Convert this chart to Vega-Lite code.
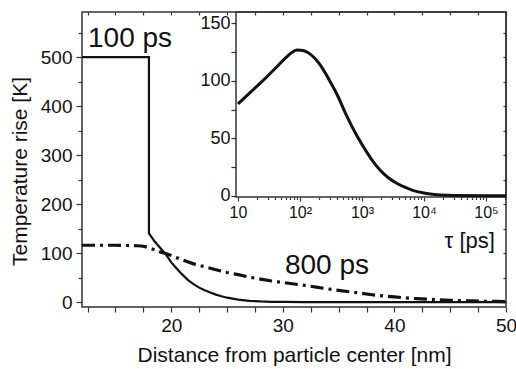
{
  "$schema": "https://vega.github.io/schema/vega-lite/v6.json",
  "width": 424,
  "height": 295,
  "autosize": {"type": "none"},
  "padding": {"left": 82, "top": 12, "right": 10, "bottom": 62},
  "config": {
    "font": "Liberation Sans",
    "view": {"stroke": "#333", "strokeWidth": 1.5},
    "axis": {"grid": false, "domain": false, "tickColor": "#333", "tickWidth": 1.2, "labelColor": "#111", "titleColor": "#111", "titleFontWeight": "normal", "labelFlush": false, "labelOverlap": false}
  },
  "datasets": {
    "p100": [
      {"i": 0, "r": 12, "T": 500}, {"i": 1, "r": 18, "T": 500}, {"i": 2, "r": 18, "T": 140},
      {"i": 3, "r": 18.5, "T": 124}, {"i": 4, "r": 19, "T": 111}, {"i": 5, "r": 19.5, "T": 98},
      {"i": 6, "r": 20, "T": 81}, {"i": 7, "r": 20.5, "T": 68}, {"i": 8, "r": 21, "T": 56},
      {"i": 9, "r": 21.5, "T": 45}, {"i": 10, "r": 22, "T": 36.6}, {"i": 11, "r": 22.5, "T": 29.5},
      {"i": 12, "r": 23, "T": 24}, {"i": 13, "r": 23.5, "T": 19.5}, {"i": 14, "r": 24, "T": 15.3},
      {"i": 15, "r": 24.5, "T": 12}, {"i": 16, "r": 25, "T": 9}, {"i": 17, "r": 26, "T": 5},
      {"i": 18, "r": 27, "T": 2.6}, {"i": 19, "r": 28, "T": 1.3}, {"i": 20, "r": 29, "T": 0.6},
      {"i": 21, "r": 30, "T": 0.3}, {"i": 22, "r": 32, "T": 0.1}, {"i": 23, "r": 35, "T": 0},
      {"i": 24, "r": 50, "T": 0}
    ],
    "p800": [
      {"r": 12, "T": 116}, {"r": 13, "T": 116}, {"r": 14, "T": 116}, {"r": 15, "T": 116},
      {"r": 16, "T": 115.5}, {"r": 17, "T": 115}, {"r": 17.5, "T": 114}, {"r": 18, "T": 111},
      {"r": 18.5, "T": 107}, {"r": 19, "T": 102.5}, {"r": 19.5, "T": 99}, {"r": 20, "T": 95},
      {"r": 21, "T": 86}, {"r": 22, "T": 78}, {"r": 23, "T": 72}, {"r": 24, "T": 66},
      {"r": 25, "T": 60.5}, {"r": 26, "T": 56}, {"r": 27, "T": 51}, {"r": 28, "T": 47},
      {"r": 29, "T": 43}, {"r": 30, "T": 40}, {"r": 31, "T": 37}, {"r": 32, "T": 34},
      {"r": 33, "T": 30.5}, {"r": 34, "T": 27}, {"r": 35, "T": 24}, {"r": 36, "T": 21},
      {"r": 37, "T": 18}, {"r": 38, "T": 15}, {"r": 39, "T": 12.5}, {"r": 40, "T": 10.5},
      {"r": 41, "T": 8.5}, {"r": 42, "T": 7}, {"r": 43, "T": 5.8}, {"r": 44, "T": 4.7},
      {"r": 45, "T": 3.8}, {"r": 46, "T": 3}, {"r": 47, "T": 2.4}, {"r": 48, "T": 1.8},
      {"r": 49, "T": 1.4}, {"r": 50, "T": 1}
    ],
    "bigLabels": [
      {"r": 12.54, "T": 520, "text": "100 ps"},
      {"r": 30.19, "T": 57, "text": "800 ps"}
    ],
    "tauLabel": [{"r": 49.0, "T": 110, "text": "τ [ps]"}],
    "inset": [
      {"tau": 10, "T": 80}, {"tau": 15.8, "T": 90}, {"tau": 25, "T": 100}, {"tau": 40, "T": 111},
      {"tau": 56, "T": 119}, {"tau": 71, "T": 124}, {"tau": 89, "T": 127}, {"tau": 112, "T": 126.5},
      {"tau": 141, "T": 124}, {"tau": 178, "T": 119}, {"tau": 224, "T": 112}, {"tau": 302, "T": 100},
      {"tau": 398, "T": 88}, {"tau": 562, "T": 70}, {"tau": 794, "T": 54}, {"tau": 1047, "T": 43},
      {"tau": 1413, "T": 32}, {"tau": 1950, "T": 22.5}, {"tau": 2630, "T": 16}, {"tau": 3630, "T": 11},
      {"tau": 5010, "T": 7.3}, {"tau": 6760, "T": 4.6}, {"tau": 10000, "T": 2.4}, {"tau": 12600, "T": 1.6},
      {"tau": 18200, "T": 0.8}, {"tau": 31600, "T": 0.3}, {"tau": 100000, "T": 0.05}, {"tau": 210000, "T": 0}
    ],
    "insetFrame": [{"x1": 9.3, "x2": 210000, "y1": -1, "y2": 160}]
  },
  "layer": [
    {
      "layer": [
        {
          "data": {"name": "p100"},
          "mark": {"type": "line", "color": "#111", "strokeWidth": 2.2},
          "encoding": {
            "x": {"field": "r", "type": "quantitative", "scale": {"domain": [12, 50], "nice": false, "zero": false},
              "axis": {"orient": "bottom", "values": [12.5, 15, 17.5, 20, 22.5, 25, 27.5, 30, 32.5, 35, 37.5, 40, 42.5, 45, 47.5, 50],
                "labelExpr": "datum.value % 10 == 0 ? datum.label : ''", "tickSize": 5, "labelFontSize": 19, "labelPadding": 4,
                "title": "Distance from particle center [nm]", "titleFontSize": 21, "titlePadding": 9}},
            "y": {"field": "T", "type": "quantitative", "scale": {"domain": [-10, 592], "nice": false, "zero": false},
              "axis": {"orient": "left", "values": [0, 50, 100, 150, 200, 250, 300, 350, 400, 450, 500, 550],
                "labelExpr": "datum.value % 100 == 0 ? datum.label : ''",
                "tickSize": {"condition": {"test": "datum.value % 100 == 0", "value": 6}, "value": 4},
                "labelFontSize": 19, "labelPadding": 4,
                "title": "Temperature rise [K]", "titleFontSize": 21, "titlePadding": 10, "titleY": 159}},
            "order": {"field": "i", "type": "quantitative"}
          }
        },
        {
          "data": {"name": "p800"},
          "mark": {"type": "line", "color": "#111", "strokeWidth": 3.2, "strokeDash": [13, 5, 3, 5]},
          "encoding": {
            "x": {"field": "r", "type": "quantitative", "scale": {"domain": [12, 50], "nice": false, "zero": false},
              "axis": {"orient": "top", "values": [12.5, 15, 17.5, 20, 22.5, 25, 27.5, 30, 32.5, 35, 37.5, 40, 42.5, 45, 47.5, 50],
                "labels": false, "tickSize": -3, "title": null}},
            "y": {"field": "T", "type": "quantitative", "scale": {"domain": [-10, 592], "nice": false, "zero": false},
              "axis": {"orient": "right", "values": [0, 50, 100, 150, 200, 250, 300, 350, 400, 450, 500, 550],
                "labels": false, "tickSize": -3, "title": null}}
          }
        },
        {
          "data": {"name": "bigLabels"},
          "mark": {"type": "text", "fontSize": 28, "align": "left", "baseline": "alphabetic", "color": "#111"},
          "encoding": {
            "x": {"field": "r", "type": "quantitative", "axis": null},
            "y": {"field": "T", "type": "quantitative", "axis": null},
            "text": {"field": "text"}
          }
        },
        {
          "data": {"name": "tauLabel"},
          "mark": {"type": "text", "fontSize": 22, "align": "right", "baseline": "alphabetic", "color": "#111"},
          "encoding": {
            "x": {"field": "r", "type": "quantitative", "axis": null},
            "y": {"field": "T", "type": "quantitative", "axis": null},
            "text": {"field": "text"}
          }
        }
      ],
      "resolve": {"axis": {"x": "independent", "y": "independent"}}
    },
    {
      "layer": [
        {
          "data": {"name": "insetFrame"},
          "mark": {"type": "rect", "fill": null, "stroke": "#333", "strokeWidth": 1.5},
          "encoding": {
            "x": {"field": "x1", "type": "quantitative", "scale": {"type": "log", "domain": [9.3, 210000], "range": [154, 424], "nice": false}, "axis": null},
            "x2": {"field": "x2"},
            "y": {"field": "y1", "type": "quantitative", "scale": {"domain": [-1, 160], "range": [185, 0], "nice": false, "zero": false}, "axis": null},
            "y2": {"field": "y2"}
          }
        },
        {
          "data": {"name": "inset"},
          "mark": {"type": "line", "color": "#111", "strokeWidth": 3, "interpolate": "monotone"},
          "encoding": {
            "x": {"field": "tau", "type": "quantitative", "scale": {"type": "log", "domain": [9.3, 210000], "range": [154, 424], "nice": false},
              "axis": {"orient": "bottom", "offset": -110,
                "values": [10, 20, 30, 40, 50, 60, 70, 80, 90, 100, 200, 300, 400, 500, 600, 700, 800, 900, 1000, 2000, 3000, 4000, 5000, 6000, 7000, 8000, 9000, 10000, 20000, 30000, 40000, 50000, 60000, 70000, 80000, 90000, 100000, 200000],
                "labelExpr": "datum.value == 10 ? '10' : datum.value == 100 ? '10²' : datum.value == 1000 ? '10³' : datum.value == 10000 ? '10⁴' : datum.value == 100000 ? '10⁵' : ''",
                "tickSize": {"condition": {"test": "datum.value == 10 || datum.value == 100 || datum.value == 1000 || datum.value == 10000 || datum.value == 100000", "value": 4}, "value": 2.5},
                "labelFontSize": 16, "labelPadding": 3, "title": null}},
            "y": {"field": "T", "type": "quantitative", "scale": {"domain": [-1, 160], "range": [185, 0], "nice": false, "zero": false},
              "axis": {"orient": "left", "offset": -154, "values": [0, 25, 50, 75, 100, 125, 150],
                "labelExpr": "datum.value % 50 == 0 ? datum.label : ''",
                "tickSize": 5, "labelFontSize": 18, "labelPadding": 1, "title": null}}
          }
        }
      ],
      "resolve": {"axis": {"x": "independent", "y": "independent"}}
    }
  ],
  "resolve": {"scale": {"x": "independent", "y": "independent"}}
}
